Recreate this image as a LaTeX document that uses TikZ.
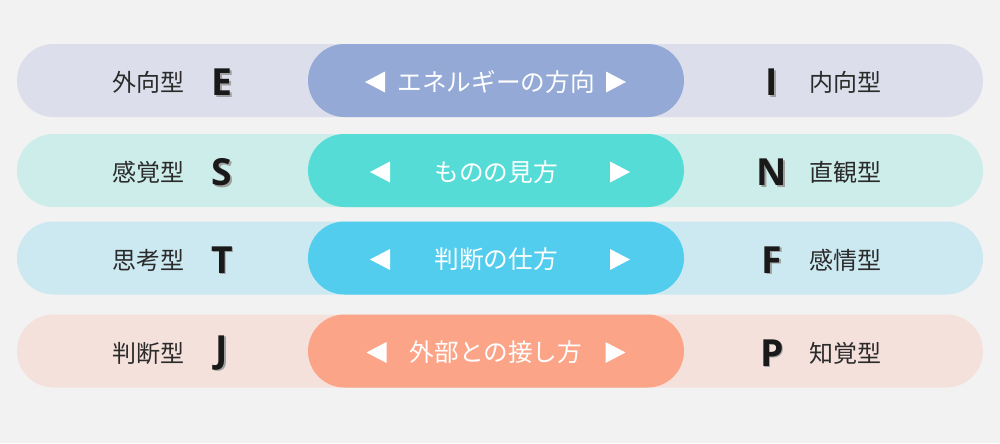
\documentclass[tikz,border=0pt]{standalone}
\usepackage{fontspec}
\setmainfont{Noto Sans CJK JP}
\newfontfamily\letterfont{Open Sans}
\usetikzlibrary{shapes.misc}
\definecolor{bg}{HTML}{F2F2F2}
\definecolor{rowout1}{HTML}{DCDFEB}
\definecolor{rowin1}{HTML}{94A9D6}
\definecolor{rowout2}{HTML}{CCEDE9}
\definecolor{rowin2}{HTML}{55DCD7}
\definecolor{rowout3}{HTML}{CCE9F1}
\definecolor{rowin3}{HTML}{52CDEE}
\definecolor{rowout4}{HTML}{F5E1DB}
\definecolor{rowin4}{HTML}{FBA487}
\definecolor{labeltext}{HTML}{2B2B2B}
\definecolor{lettershadow}{HTML}{A0A0A0}

\begin{document}
\begin{tikzpicture}[x=0.75pt,y=-0.75pt,
    pillout/.style={rounded rectangle,minimum width=724.5pt,minimum height=54.75pt,inner sep=0pt},
    pillin/.style={rounded rectangle,minimum width=282pt,minimum height=54.75pt,inner sep=0pt},
    typename/.style={text=labeltext,font=\fontsize{18}{20}\selectfont,inner sep=0pt},
    letter/.style={text=black!90,font=\letterfont\bfseries\fontsize{28}{30}\selectfont,inner sep=0pt},
    axis/.style={text=white,font=\fontsize{18.5}{20}\selectfont,inner sep=0pt}]
  \fill[bg] (0,0) rectangle (1000,443);
  \useasboundingbox (0,0) rectangle (1000,443);
  % four rows: left type, axis, right type
  \foreach \n/\y/\lt/\ll/\rl/\rt/\mid/\tl/\tr in {
      1/80.5/外向型/E/I/内向型/エネルギーの方向/375/616,
      2/170.5/感覚型/S/N/直観型/ものの見方/380/620,
      3/258/思考型/T/F/感情型/判断の仕方/380/620,
      4/351/判断型/J/P/知覚型/外部との接し方/376.5/615.5}
  {
    \node[pillout,fill=rowout\n] (out\n) at (500,\y) {};
    \node[pillin,fill=rowin\n] (in\n) at (496,\y) {};
    \node[axis] (ax\n) at (496,\y+1.5) {\mid};
    \fill[white] (\tl,\y+1.5) ++(-10,0) -- ++(20,-10.5) -- ++(0,21) -- cycle;
    \fill[white] (\tr,\y+1.5) ++(10,0) -- ++(-20,-10.5) -- ++(0,21) -- cycle;
    \node[typename] (lt\n) at (148,\y+2) {\lt};
    \node[typename] (rt\n) at (845,\y+2) {\rt};
    \node[letter,text=lettershadow] (lss\n) at (223.5,\y+3.5) {\ll};
    \node[letter] (ll\n) at (222,\y+2) {\ll};
    \node[letter,text=lettershadow] (rss\n) at (773.5,\y+3.5) {\rl};
    \node[letter] (rl\n) at (772,\y+2) {\rl};
  }
\end{tikzpicture}
\end{document}
